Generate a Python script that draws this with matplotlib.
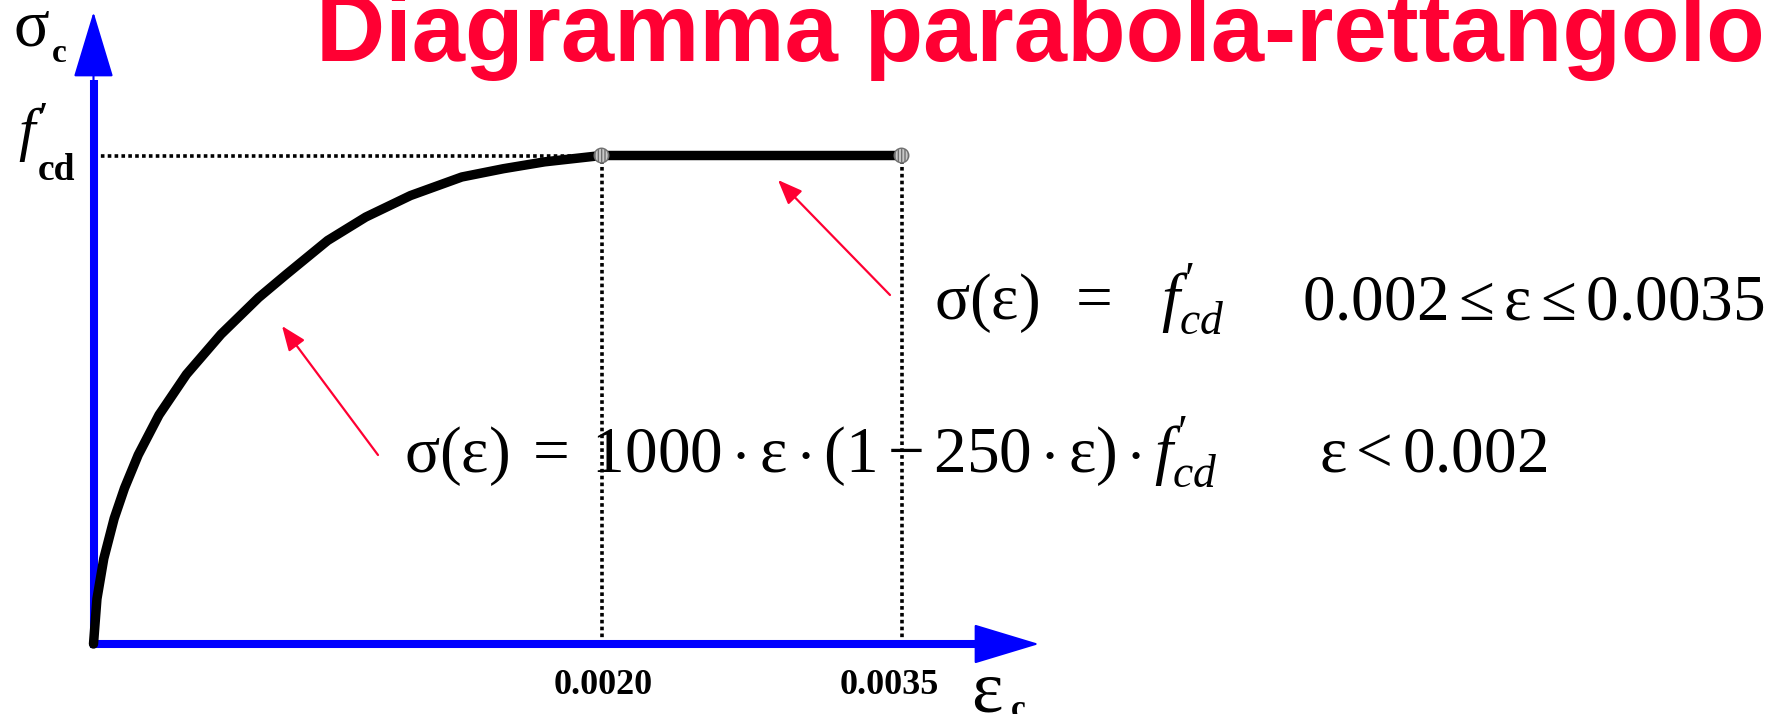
import numpy as np
import matplotlib
matplotlib.use('Agg')
import matplotlib.pyplot as plt
from matplotlib.patches import ArrowStyle

# ---------------- data (strain in per mille, stress as fraction of f'cd) ----------------
eps_curve = [0.0, 0.0136, 0.0406, 0.0814, 0.122, 0.176, 0.258, 0.366, 0.502, 0.65,
             0.76, 0.922, 1.072, 1.248, 1.45, 1.614, 1.776, 2.0]
sig_curve = [0.0, 0.0925, 0.175, 0.257, 0.319, 0.387, 0.469, 0.552, 0.634, 0.709,
             0.757, 0.826, 0.874, 0.918, 0.956, 0.973, 0.987, 1.0]
eps_plateau = [2.0, 3.5]
sig_plateau = [1.0, 1.0]
eps_marks = [2.0, 3.5]
tick_labels = ['0.0020', '0.0035']

title = 'Diagramma parabola-rettangolo'
formula_plateau = r'$\mathrm{σ(ε)}\;\;=\;\;\;f^{\prime}_{cd}$'
cond_plateau = r'$0.002 \leq \mathrm{ε} \leq 0.0035$'
formula_parab = (r'$\mathrm{σ(ε)}\;=\;1000 \cdot \mathrm{ε} \cdot (1 - 250 \cdot \mathrm{ε})'
                 r' \cdot f^{\prime}_{cd}$')
cond_parab = r'$\mathrm{ε} < 0.002$'

# ---------------- style ----------------
plt.rcParams['mathtext.fontset'] = 'custom'
plt.rcParams['mathtext.rm'] = 'Liberation Serif'
plt.rcParams['mathtext.it'] = 'Liberation Serif:italic'
plt.rcParams['mathtext.bf'] = 'Liberation Serif:bold'
SERIF = ['Liberation Serif', 'DejaVu Serif']
RED = '#ff0033'
BLUE = '#0000ff'

W, H = 1767, 714
fig = plt.figure(figsize=(W / 100, H / 100), dpi=100)
ax = fig.add_axes([0, 0, 1, 1])

# schematic (piecewise linear) strain axis
K1, K2 = 254.0, 200.0


def fwd(x):
    x = np.asarray(x, float)
    return np.where(x <= 2, x * K1, 2 * K1 + (x - 2) * K2)


def inv(u):
    u = np.asarray(u, float)
    return np.where(u <= 2 * K1, u / K1, 2 + (u - 2 * K1) / K2)


X0 = 93.5
ax.set_xscale('function', functions=(fwd, inv))
ax.set_xlim(float(inv(-X0)), float(inv(W - X0)))
Y0, YF = 644.0, 155.5
U = Y0 - YF
ax.set_ylim(-(H - Y0) / U, Y0 / U)
ax.axis('off')


def P(x, y):
    return (x / W, 1 - y / H)


# ---------------- axes arrows ----------------
y_tip = (Y0 - 12) / U
y_base = (Y0 - 80) / U
x_tip = float(inv(1039 - X0))
x_base = float(inv(982 - X0))
ax.plot([0, 0], [-4 / U, y_base], color=BLUE, lw=5.8, solid_capstyle='butt', zorder=5)
ax.plot([-3 / K1, x_base], [0, 0], color=BLUE, lw=5.8, solid_capstyle='butt', zorder=5)
head = ArrowStyle('-|>', head_length=4.3, head_width=1.3)
ax.annotate('', xy=(0, y_tip), xytext=(0, 0),
            arrowprops=dict(arrowstyle=head, mutation_scale=10, color=BLUE, lw=1.5,
                            shrinkA=0, shrinkB=0, joinstyle='round'), zorder=5)
ax.annotate('', xy=(x_tip, 0), xytext=(0, 0),
            arrowprops=dict(arrowstyle=head, mutation_scale=10, color=BLUE, lw=1.5,
                            shrinkA=0, shrinkB=0, joinstyle='round'), zorder=5)

# ---------------- dotted reference lines ----------------
dot = dict(color='black', lw=2.6, linestyle=(0, (1.0, 0.9)), zorder=4.5)
ax.plot([0, eps_marks[0]], [sig_plateau[0], sig_plateau[0]], **dot)
for e in eps_marks:
    ax.plot([e, e], [0, 1.0], **dot)

# ---------------- stress-strain curve ----------------
ax.plot(eps_curve + eps_plateau[1:], sig_curve + sig_plateau[1:], color='black', lw=6.8,
        solid_capstyle='round', solid_joinstyle='round', zorder=6)
ax.scatter(eps_marks, sig_plateau, s=110, c='#c8c8c8', edgecolors='#707070',
           linewidths=1.0, hatch='|||||', zorder=8)

# tick labels
for e, lab, dx in zip(eps_marks, tick_labels, [2, -12]):
    ax.annotate(lab, xy=(e, 0), xytext=(dx * 0.72, -50 * 0.72), textcoords='offset points',
                ha='center', va='baseline', fontsize=26, fontweight='bold', family=SERIF)

# ---------------- texts ----------------
fig.text(*P(316, 61), title, fontsize=69, fontweight='bold', family='Liberation Sans',
         color=RED, ha='left', va='baseline')
fig.text(*P(13, 45), 'σ', fontsize=48, family=SERIF, ha='left', va='baseline')
fig.text(*P(52, 62), 'c', fontsize=24, fontweight='bold', family=SERIF, ha='left', va='baseline')
fig.text(*P(18, 150), r"$f^{\prime}$", fontsize=43, ha='left', va='baseline')
fig.text(*P(38, 180), 'cd', fontsize=27, fontweight='bold', family=SERIF, ha='left', va='baseline')
fig.text(*P(971, 712), 'ε', fontsize=54, family=SERIF, ha='left', va='baseline')
fig.text(*P(1011, 718), 'c', fontsize=24, fontweight='bold', family=SERIF, ha='left', va='baseline')

FS = 47
fig.text(*P(934, 319), formula_plateau, fontsize=FS, ha='left', va='baseline', zorder=3)
fig.text(*P(1302, 319), cond_plateau, fontsize=FS, ha='left', va='baseline', zorder=3)
fig.text(*P(404, 472), formula_parab, fontsize=FS, ha='left', va='baseline', zorder=3)
fig.text(*P(1319, 472), cond_parab, fontsize=FS, ha='left', va='baseline', zorder=3)

# ---------------- red pointer arrows ----------------
red_head = ArrowStyle('-|>', head_length=1.5, head_width=0.6)
for tail, tip in [((378, 455), (282, 326)), ((890, 295), (778, 180))]:
    ax.annotate('', xy=P(*tip), xycoords='figure fraction', xytext=P(*tail),
                textcoords='figure fraction',
                arrowprops=dict(arrowstyle=red_head, mutation_scale=10, color=RED, lw=1.6,
                                shrinkA=0, shrinkB=0))

fig.savefig('out.png', dpi=100)
